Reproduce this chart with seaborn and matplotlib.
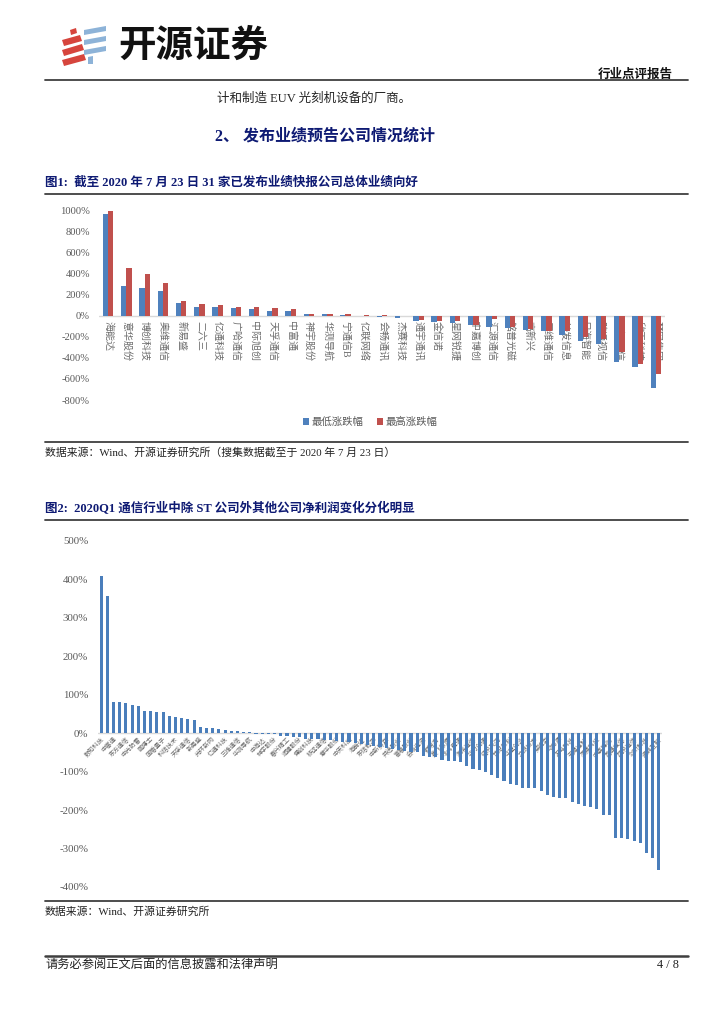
import matplotlib
matplotlib.use('Agg')
import matplotlib.pyplot as plt
import seaborn as sns
import pandas as pd
from matplotlib.patches import Polygon
from matplotlib.lines import Line2D

# ---------------- data ----------------
names1 = ["海能达", "意华股份", "博创科技", "奥维通信", "新易盛", "二六三", "亿通科技", "广哈通信",
          "中际旭创", "天孚通信", "中富通", "神宇股份", "华测导航", "宁通信B", "亿联网络", "会畅通讯",
          "杰赛科技", "通宇通讯", "金信诺", "星网锐捷", "中嘉博创", "汇源通信", "铭普光磁", "高新兴",
          "三维通信", "特发信息", "日海智能", "路通视信", "超讯通信", "欣天科技", "梦网集团"]
low1 = [965, 280, 261, 239, 121, 86, 83, 73, 61, 51, 51, 13, 13, 12, 1, -8, -20, -51, -60, -67,
        -89, -102, -115, -134, -146, -178, -242, -268, -443, -484, -688]
high1 = [1013, 455, 395, 309, 146, 111, 108, 86, 89, 73, 70, 22, 16, 13, 12, 6, -1, -35, -45, -48,
         -83, -32, -108, -124, -140, -146, -197, -220, -347, -459, -554]
series1 = ["最低涨跌幅", "最高涨跌幅"]
yticks1 = [-800, -600, -400, -200, 0, 200, 400, 600, 800, 1000]

names2 = ["数知科技", "东土科技", "中富通", "通光线缆", "东方通信", "金信诺", "中光防雷", "太辰光", "鹏博士", "国脉科技",
          "国盾量子", "纵横通信", "科信技术", "梦网集团", "天孚通信", "特发信息", "新易盛", "光迅科技", "光环新网", "亨通光电",
          "亿通科技", "中际旭创", "三维通信", "世嘉科技", "华测导航", "武汉凡谷", "中海达", "大富科技", "神宇股份", "盛路通信",
          "春兴精工", "飞荣达", "润建股份", "信维通信", "博创科技", "麦捷科技", "移远通信", "广和通", "意华股份", "有方科技",
          "中天科技", "和而泰", "海能达", "初灵信息", "东信和平", "恒为科技", "中新赛克", "天邑股份", "共进股份", "紫光股份",
          "富春股份", "二六三", "会畅通讯", "亿联网络", "数据港", "宝信软件", "奥飞数据", "网宿科技", "北斗星通", "振芯科技",
          "海格通信", "七一二", "华力创通", "合众思壮", "佳讯飞鸿", "辉煌科技", "世纪鼎利", "宜通世纪", "华星创业", "吉大通信",
          "立昂技术", "高澜股份", "英维克", "中恒电气", "动力源", "汇源通信", "万马科技", "瑞斯康达", "天源迪科", "通宇通讯",
          "杰赛科技", "星网锐捷", "中嘉博创", "铭普光磁", "路通视信", "日海智能", "超讯通信", "欣天科技", "剑桥科技", "永鼎股份",
          "通鼎互联"]
vals2 = [410, 358, 82, 80, 78, 74, 72, 59, 57, 55, 54, 46, 41, 40, 37, 35, 16, 14, 13, 10,
         9, 7, 6, 4, 2, -2, -2, -3, -3, -7, -8, -9, -10, -14, -15, -16, -17, -18, -20, -22,
         -24, -26, -28, -30, -32, -35, -38, -40, -44, -46, -48, -50, -58, -61, -63, -69, -71, -72, -74, -86,
         -92, -95, -101, -108, -117, -124, -132, -135, -142, -142, -143, -151, -161, -165, -168, -168, -180, -184, -190, -191,
         -197, -213, -213, -273, -273, -274, -281, -286, -311, -324, -355]
yticks2 = [-400, -300, -200, -100, 0, 100, 200, 300, 400, 500]

# ---------------- style ----------------
sns.set_theme(style='white')
plt.rcParams['font.family'] = ['Liberation Serif', 'Noto Sans CJK SC']
plt.rcParams['axes.unicode_minus'] = False

BLUE = '#4F81BD'
RED = '#C0504D'
BLUE2 = '#4A7EBB'
NAVY = '#0E1A73'
GRAY = '#595959'
SERIF_CJK = ['Liberation Serif', 'Noto Sans CJK SC']

W, H = 724, 1024
fig = plt.figure(figsize=(W / 100, H / 100), dpi=100)


def fx(x):
    return x / W


def fy(y):
    return 1 - y / H


def text(x, y, s, **kw):
    kw.setdefault('va', 'center')
    fig.text(fx(x), fy(y), s, **kw)


def hline(y, x0=45, x1=688, lw=1.3, color='#3F3F3F'):
    fig.add_artist(Line2D([fx(x0), fx(x1)], [fy(y), fy(y)], lw=lw, color=color,
                          transform=fig.transFigure))


def poly(pts, color):
    fig.add_artist(Polygon([(fx(a), fy(b)) for a, b in pts], closed=True, color=color,
                           transform=fig.transFigure, lw=0))


# ---------------- header ----------------
# logo
poly([(70, 30), (76, 28), (77, 33), (71, 35)], '#D6453D')
poly([(62, 40), (80, 35), (82, 41), (64, 46)], '#D6453D')
poly([(62, 50), (82, 44), (84, 50), (64, 56)], '#D6453D')
poly([(62, 60), (84, 54), (86, 60), (64, 66)], '#D6453D')
poly([(84, 30), (106, 26), (106, 31), (84, 35)], '#8DB3D8')
poly([(84, 40), (106, 36), (106, 41), (84, 45)], '#8DB3D8')
poly([(84, 50), (106, 46), (106, 51), (84, 55)], '#8DB3D8')
poly([(88, 57), (93, 56), (93, 64), (88, 64)], '#8DB3D8')
text(118, 45, "开源证券", fontsize=27, fontweight='bold', family=['Noto Sans CJK SC'],
     color='#111111', ha='left')
text(673, 74, "行业点评报告", fontsize=9, fontweight='bold', family=['Noto Sans CJK SC'],
     color='#111111', ha='right')
hline(80)

text(217, 99, "计和制造 EUV 光刻机设备的厂商。", fontsize=9, family=SERIF_CJK, color='#222222', ha='left')
text(215, 137, "2、 发布业绩预告公司情况统计", fontsize=11.5, fontweight='bold', family=SERIF_CJK,
     color=NAVY, ha='left')
text(45, 183, "图1:  截至 2020 年 7 月 23 日 31 家已发布业绩快报公司总体业绩向好", fontsize=9,
     fontweight='bold', family=SERIF_CJK, color=NAVY, ha='left')
hline(194)

# ---------------- chart 1 ----------------
ax1 = fig.add_axes([fx(99), fy(400), 566 / W, 189.3 / H])
df1 = pd.DataFrame({
    '公司': names1 * 2,
    '涨跌幅': low1 + high1,
    '类型': [series1[0]] * len(names1) + [series1[1]] * len(names1),
})
sns.barplot(data=df1, x='公司', y='涨跌幅', hue='类型', order=names1, hue_order=series1,
            palette=[BLUE, RED], width=0.58, gap=0, saturation=1, errorbar=None,
            linewidth=0, ax=ax1)
ax1.set_xlim(-0.5, len(names1) - 0.5)
ax1.set_ylim(-800, 1000)
ax1.set_yticks(yticks1)
ax1.set_yticklabels([f"{v}%" for v in yticks1])
for sp in ax1.spines.values():
    sp.set_visible(False)
ax1.spines['bottom'].set_position(('data', 0))
ax1.axhline(0, color='#D9D9D9', lw=1, zorder=0.5)
ax1.set_xticks(range(len(names1)))
ax1.set_xticklabels(names1, rotation=270, ha='center', va='top', fontsize=7.2, color='#6A6A6A')
ax1.tick_params(axis='x', length=0, pad=4)
ax1.tick_params(axis='y', length=0, pad=6.5, labelsize=7.6, labelcolor=GRAY)
ax1.set_xlabel('')
ax1.set_ylabel('')
ax1.grid(False)
ax1.legend(loc='center', bbox_to_anchor=(0.479, -0.116), ncol=2, frameon=False, fontsize=7.5,
           handlelength=0.6, handleheight=0.6, handletextpad=0.2, columnspacing=1.3,
           labelcolor=GRAY, title=None)

hline(442)
text(45, 452, "数据来源：Wind、开源证券研究所（搜集数据截至于 2020 年 7 月 23 日）", fontsize=7.8,
     family=SERIF_CJK, color='#222222', ha='left')

text(45, 509, "图2:  2020Q1 通信行业中除 ST 公司外其他公司净利润变化分化明显", fontsize=9,
     fontweight='bold', family=SERIF_CJK, color=NAVY, ha='left')
hline(520)

# ---------------- chart 2 ----------------
ax2 = fig.add_axes([fx(98), fy(887), 564 / W, 346 / H])
df2 = pd.DataFrame({'公司': names2, '净利润变化': vals2})
sns.barplot(data=df2, x='公司', y='净利润变化', order=names2, color=BLUE2, width=0.5,
            saturation=1, errorbar=None, linewidth=0, ax=ax2)
ax2.set_xlim(-0.5, len(names2) - 0.5)
ax2.set_ylim(-400, 500)
ax2.set_yticks(yticks2)
ax2.set_yticklabels([f"{v}%" for v in yticks2])
for sp in ax2.spines.values():
    sp.set_visible(False)
ax2.spines['bottom'].set_position(('data', 0))
ax2.axhline(0, color='#D9D9D9', lw=1, zorder=0.5)
ax2.set_xticks(range(0, len(names2), 2))
ax2.set_xticklabels(names2[::2], rotation=45, ha='right', rotation_mode='anchor',
                    fontsize=4.5, color='#6A6A6A')
ax2.tick_params(axis='x', length=0, pad=2)
ax2.tick_params(axis='y', length=0, pad=7, labelsize=7.8, labelcolor=GRAY)
ax2.set_xlabel('')
ax2.set_ylabel('')
ax2.grid(False)

hline(901)
text(45, 912, "数据来源：Wind、开源证券研究所", fontsize=7.8, family=SERIF_CJK, color='#222222', ha='left')

# ---------------- footer ----------------
hline(956, lw=1.8)
text(45, 965, "请务必参阅正文后面的信息披露和法律声明", fontsize=8.8, family=SERIF_CJK,
     color='#222222', ha='left')
text(679, 965, "4 / 8", fontsize=8.8, family=SERIF_CJK, color='#222222', ha='right')

fig.savefig('out.png', dpi=100)
